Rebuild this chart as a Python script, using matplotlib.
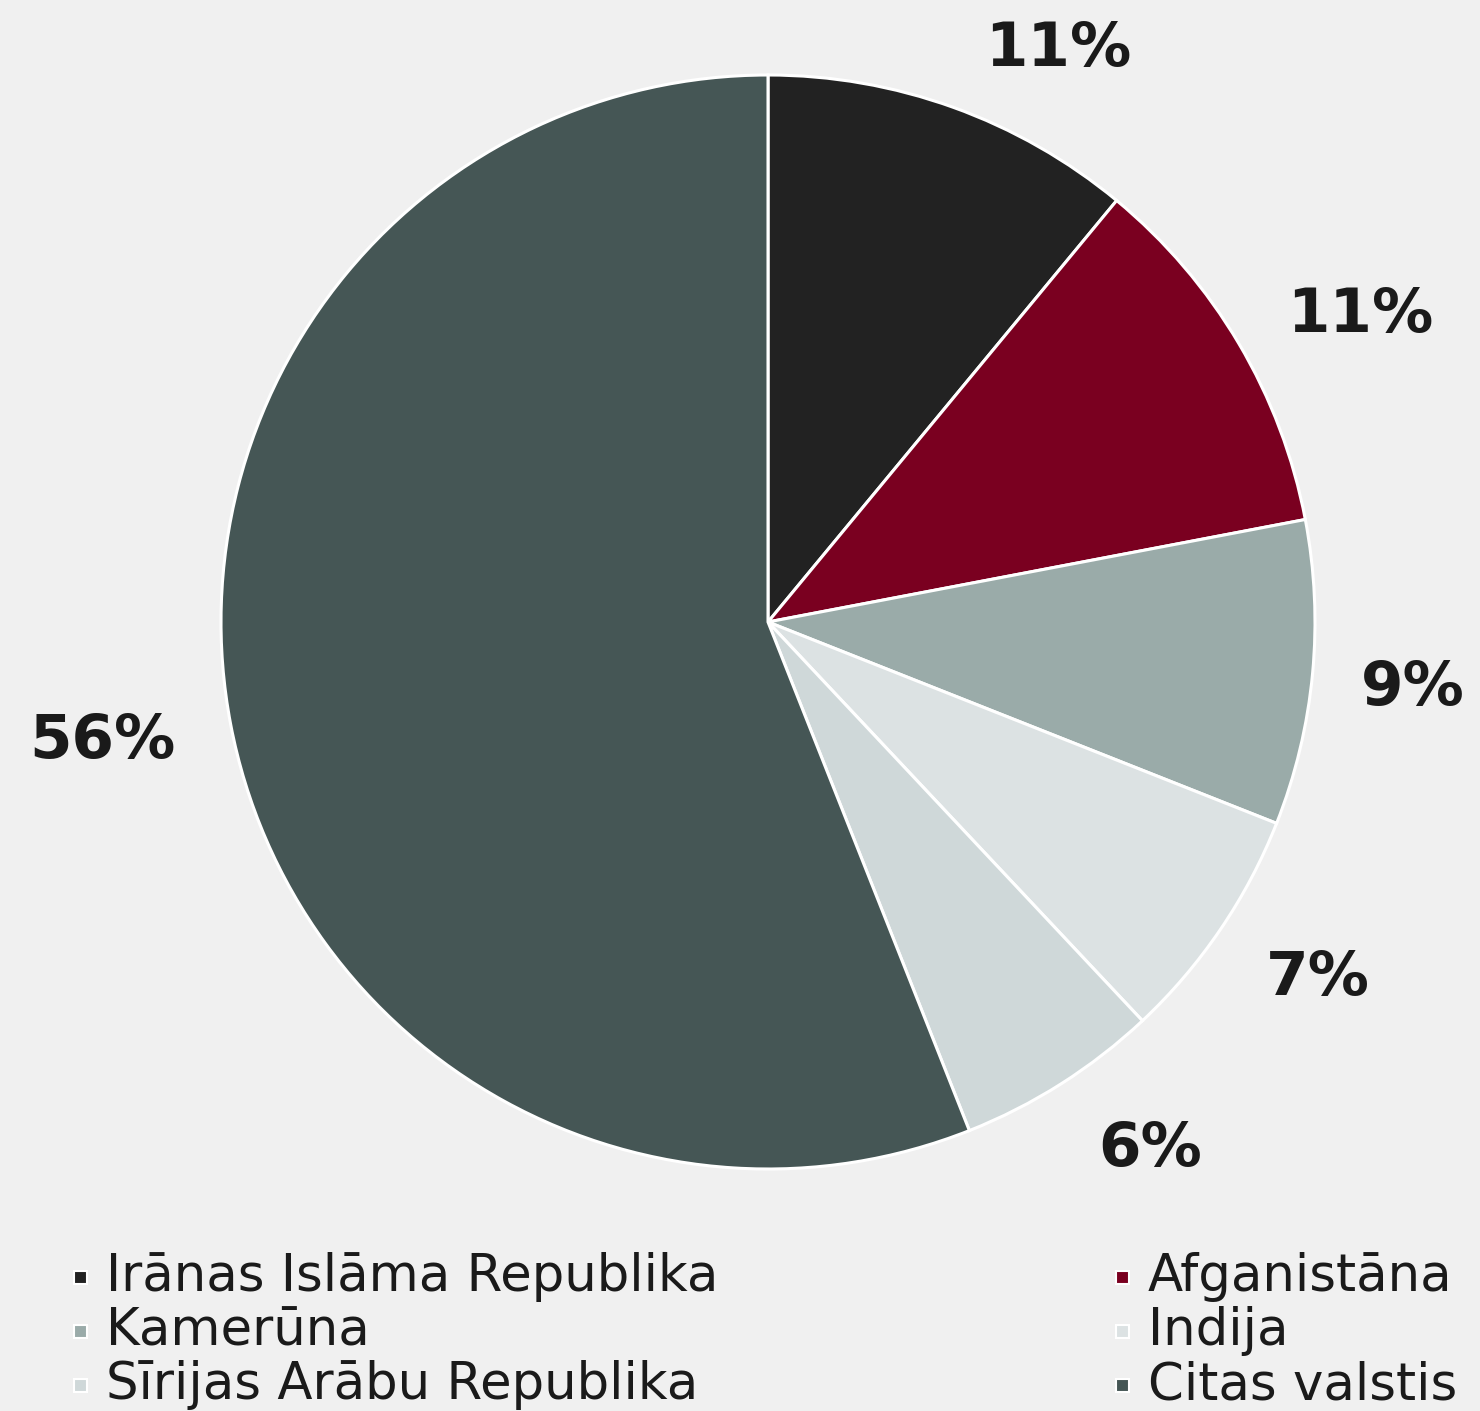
import matplotlib
matplotlib.use("Agg")
import matplotlib.pyplot as plt
from matplotlib.patches import Rectangle

categories = ["Irānas Islāma Republika", "Afganistāna", "Kamerūna", "Indija",
              "Sīrijas Arābu Republika", "Citas valstis"]
values = [11, 11, 9, 7, 6, 56]
labels = ["11%", "11%", "9%", "7%", "6%", "56%"]
colors = ["#222222", "#7a0020", "#9aaba9", "#dce2e3", "#cfd8d9", "#455655"]

W, H = 1480, 1411
fig = plt.figure(figsize=(W / 100, H / 100), dpi=100, facecolor="#f0f0f0")

R = 547.0
cx, cy = 768.0, 622.0
half = 1.4 * R
ax = fig.add_axes([(cx - half) / W, (H - cy - half) / H, 2 * half / W, 2 * half / H])
ax.axis("off")
ax.set_facecolor("none")

wedges, _ = ax.pie(values, colors=colors, startangle=90, counterclock=False,
                   radius=1.0, wedgeprops=dict(edgecolor="white", linewidth=2.2))
ax.set_xlim(-1.4, 1.4)
ax.set_ylim(-1.4, 1.4)
ax.set_aspect("equal")

label_pos = [(0.53, 1.046), (1.082, 0.561), (1.179, -0.121), (1.005, -0.651),
             (0.698, -0.965), (-1.216, -0.219)]
for (x, y), t in zip(label_pos, labels):
    ax.text(x, y, t, ha="center", va="center", fontsize=44, fontweight="bold",
            color="#1a1a1a", clip_on=False)

# legend
col_x = [80, 1122]
row_y = [1277, 1331, 1385]
for i, (name, c) in enumerate(zip(categories, colors)):
    col, row = i % 2, i // 2
    x = col_x[col]
    y = row_y[row]
    s = 13
    fig.patches.append(Rectangle(((x - s / 2) / W, (H - y - s / 2) / H), s / W, s / H,
                                 transform=fig.transFigure, facecolor=c,
                                 edgecolor="white", linewidth=1.5))
    fig.text((x + 26) / W, (H - y) / H, name, ha="left", va="center",
             fontsize=37, color="#1a1a1a")

fig.savefig("out.png", dpi=100, facecolor=fig.get_facecolor())
